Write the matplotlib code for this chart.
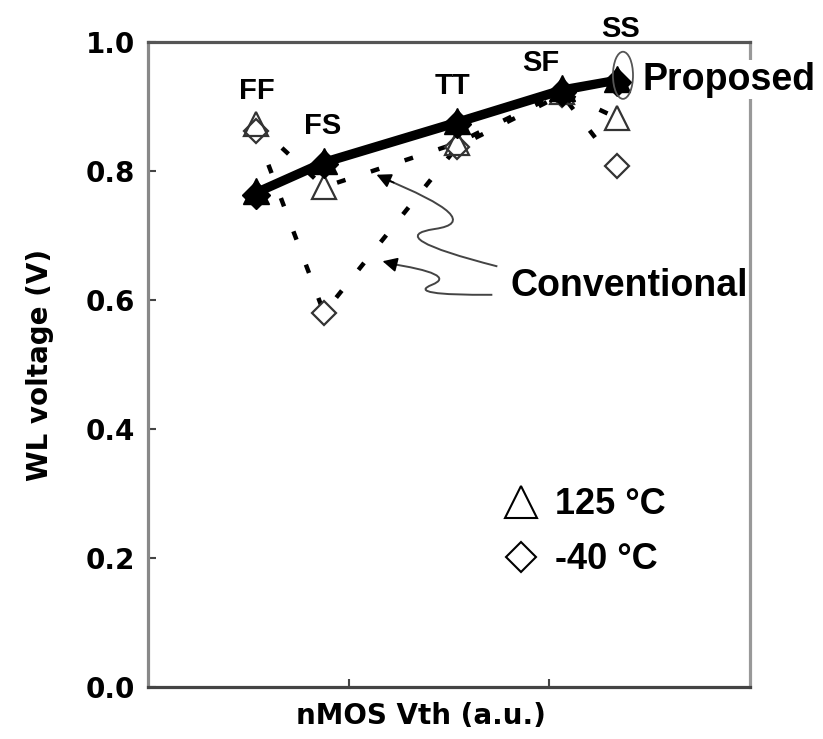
import matplotlib
matplotlib.use("Agg")
import matplotlib.pyplot as plt
from matplotlib.lines import Line2D
from matplotlib.patches import Ellipse, PathPatch
from matplotlib.path import Path

plt.rcParams['font.family'] = ['Liberation Sans', 'DejaVu Sans']
plt.rcParams['font.weight'] = 'bold'

# process corners along the nMOS Vth axis
corners = ['FF', 'FS', 'TT', 'SF', 'SS']
vth = [0.538, 0.877, 1.54, 2.063, 2.337]

# WL voltage (V) for each corner
proposed_125 = [0.769, 0.816, 0.878, 0.928, 0.943]
proposed_m40 = [0.763, 0.810, 0.872, 0.922, 0.938]
conv_125 = [0.873, 0.775, 0.843, 0.922, 0.882]
conv_m40 = [0.861, 0.580, 0.837, 0.918, 0.808]

# corner label offsets from the proposed points (pixels)
label_offsets = [(1, 100), (-1, 35), (-5, 35), (-21, 25), (4, 50)]

fig = plt.figure(figsize=(8.23, 7.39), dpi=100)
ax = fig.add_axes([0.1798, 0.0700, 0.7315, 0.8735])

# conventional (dashed) lines
dash = (0, (2, 6))
ax.plot(vth, conv_m40, color='black', lw=3.2, linestyle=dash, zorder=2)
ax.plot(vth, conv_125, color='black', lw=3.2, linestyle=dash, zorder=2)
ax.plot(vth, conv_m40, linestyle='none', marker='D', markersize=12,
        markerfacecolor='white', markeredgecolor='#333333', markeredgewidth=1.6, zorder=3)
ax.plot(vth, conv_125, linestyle='none', marker='^', markersize=17,
        markerfacecolor='none', markeredgecolor='#333333', markeredgewidth=1.6, zorder=3)

# proposed (solid) lines
ax.plot(vth, proposed_125, color='black', lw=4.2, zorder=4)
ax.plot(vth, proposed_m40, color='black', lw=4.2, zorder=4)
ax.plot(vth, proposed_m40, linestyle='none', marker='D', markersize=14,
        color='black', zorder=5)
ax.plot(vth, proposed_125, linestyle='none', marker='^', markersize=19,
        color='black', zorder=5)

for name, x, y, off in zip(corners, vth, proposed_125, label_offsets):
    ax.annotate(name, (x, y), xytext=off, textcoords='offset pixels',
                ha='center', va='center', fontsize=21, fontweight='bold',
                annotation_clip=False, zorder=6)

# loop around the SS proposed point
ax.add_patch(Ellipse((vth[-1] + 0.03, proposed_125[-1] + 0.005), 0.1, 0.073,
                     fill=False, edgecolor='#555555', lw=1.3, zorder=6, clip_on=False))
ax.text(2.463, 0.941, 'Proposed', ha='left', va='center', fontsize=27,
        fontweight='bold', clip_on=False, zorder=7,
        bbox=dict(facecolor='white', edgecolor='none', pad=1))

# squiggly pointers from the "Conventional" label
def squiggle(pts, head):
    (x0, y0), (x1, y1), (x2, y2), (x3, y3) = pts
    verts = [(x0, y0), (x1, y1), ((x1 + x2) / 2, (y1 + y2) / 2), (x2, y2), (x3, y3)]
    codes = [Path.MOVETO, Path.CURVE3, Path.CURVE3, Path.CURVE3, Path.CURVE3]
    ax.add_patch(PathPatch(Path(verts, codes), fill=False, edgecolor='#444444',
                           lw=1.4, zorder=6))
    ax.annotate('', xy=head, xytext=(x0 + (x1 - x0) * 0.12, y0 + (y1 - y0) * 0.12),
                arrowprops=dict(arrowstyle='-|>', color='black', lw=1.2,
                                mutation_scale=22, shrinkA=0, shrinkB=0), zorder=6)

squiggle([(1.16, 0.790), (1.70, 0.722), (1.16, 0.698), (1.741, 0.652)], (1.139, 0.794))
squiggle([(1.19, 0.657), (1.55, 0.640), (1.28, 0.607), (1.716, 0.608)], (1.169, 0.660))
ax.text(1.806, 0.622, 'Conventional', ha='left', va='center', fontsize=27,
        fontweight='bold', zorder=7)

# temperature key
handles = [Line2D([], [], linestyle='none', marker='^', markersize=23,
                  markerfacecolor='white', markeredgecolor='black', markeredgewidth=1.5),
           Line2D([], [], linestyle='none', marker='D', markersize=15,
                  markerfacecolor='white', markeredgecolor='black', markeredgewidth=1.5)]
ax.legend(handles, ['125 °C', '-40 °C'], loc='upper left', bbox_to_anchor=(0.535, 0.36),
          frameon=False, handlelength=1.0, handletextpad=0.45,
          labelspacing=0.55, prop={'weight': 'bold', 'size': 26})

ax.set_xlim(0, 3)
ax.set_ylim(0, 1.0)
ax.set_xticks([1, 2])
ax.set_xticklabels([])
ax.set_yticks([0, 0.2, 0.4, 0.6, 0.8, 1.0])
ax.set_yticklabels(['0.0', '0.2', '0.4', '0.6', '0.8', '1.0'])
ax.tick_params(direction='in', length=6, width=1.5, colors='#444444',
               labelcolor='black', pad=9)
for lab in ax.get_yticklabels():
    lab.set_fontfamily('DejaVu Sans')
    lab.set_fontweight('bold')
    lab.set_fontsize(20)

ax.spines['left'].set_color('#888888')
ax.spines['bottom'].set_color('#444444')
ax.spines['top'].set_color('#555555')
ax.spines['right'].set_color('#999999')
for s in ax.spines.values():
    s.set_linewidth(2.3)

fig.text(421 / 823, 1 - 716 / 739, 'nMOS Vth (a.u.)', ha='center', va='center',
         fontsize=20, fontweight='bold', family='DejaVu Sans')
fig.text(40 / 823, 1 - 365 / 739, 'WL voltage (V)', ha='center', va='center',
         rotation=90, fontsize=20, fontweight='bold', family='DejaVu Sans')

fig.savefig('out.png', dpi=100)
